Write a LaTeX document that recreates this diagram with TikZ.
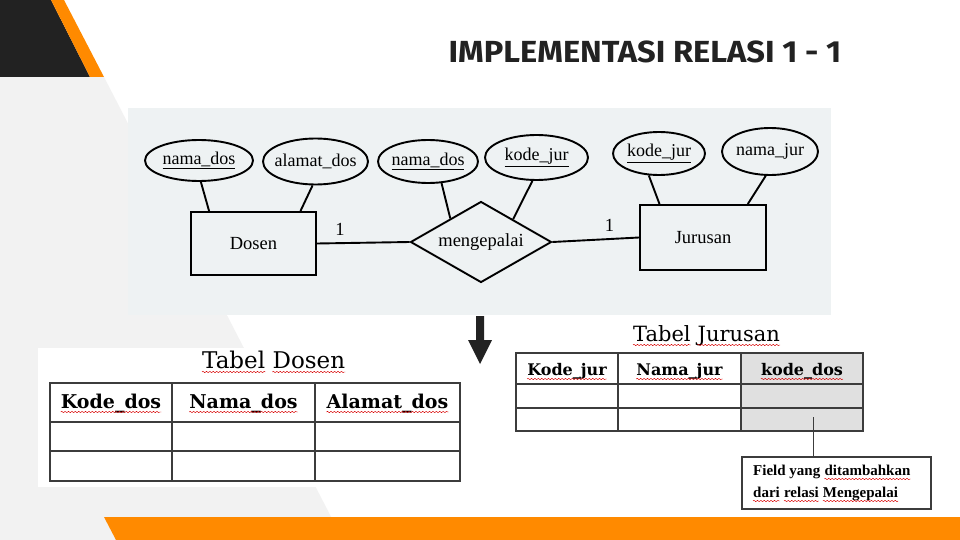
\documentclass[tikz,border=0pt]{standalone}
\usepackage{fontspec}
\usetikzlibrary{shapes.geometric,calc,decorations.pathmorphing}
\newfontfamily\erfont{Liberation Serif}
\newfontfamily\tabfont{DejaVu Serif}
\newfontfamily\notefont{Liberation Serif}
\newfontfamily\headfont{Fira Sans}
\definecolor{ink}{HTML}{222222}
\definecolor{accent}{HTML}{FF8A00}
\definecolor{pane}{HTML}{F2F2F2}
\definecolor{paper}{HTML}{EEF2F3}
\definecolor{rule}{HTML}{3C3C3C}
\definecolor{cellgray}{HTML}{E0E0E0}
\tikzset{
  erline/.style={line width=1.9pt, black},
  entity/.style={draw, erline, rectangle, inner sep=0pt, font=\erfont\fontsize{18.5}{20}\selectfont},
  attr/.style={draw, erline, ellipse, inner sep=0pt, font=\erfont\fontsize{18}{20}\selectfont},
  relation/.style={draw, erline, diamond, inner sep=0pt, font=\erfont\fontsize{18.5}{20}\selectfont},
  card/.style={font=\erfont\fontsize{18.5}{20}\selectfont, inner sep=0pt},
  grid/.style={draw=rule, line width=1.2pt},
  hdrA/.style={inner sep=0pt, anchor=base, font=\tabfont\bfseries\fontsize{19}{22}\selectfont},
  hdrB/.style={inner sep=0pt, anchor=base, font=\tabfont\bfseries\fontsize{16}{19}\selectfont},
  ttlA/.style={inner sep=0pt, anchor=base west, font=\tabfont\fontsize{23}{26}\selectfont},
  ttlB/.style={inner sep=0pt, anchor=base west, font=\tabfont\fontsize{21}{24}\selectfont},
  notetxt/.style={inner sep=0pt, anchor=base west, font=\notefont\bfseries\fontsize{15}{18}\selectfont},
  squig/.style={draw=red!85!black, line width=0.45pt, decorate,
    decoration={snake, amplitude=0.7pt, segment length=3.4pt}},
}
% red spell-check wave under a word node
\newcommand\spell[1]{\draw[squig] ([yshift=-4pt]#1.base west) -- ([yshift=-4pt]#1.base east);}
\begin{document}
\begin{tikzpicture}[x=1pt, y=-1pt]
\useasboundingbox (0,0) rectangle (960,540);

% ---- slide background ----
\fill[white] (0,0) rectangle (960,540);
\fill[pane] (0,77) -- (104,77) -- (343,540) -- (0,540) -- cycle;
\fill[ink] (0,0) -- (51,0) -- (90,77) -- (0,77) -- cycle;
\fill[accent] (51,0) -- (64,0) -- (104,77) -- (90,77) -- cycle;
\fill[accent] (104,517) -- (960,517) -- (960,540) -- (116,540) -- cycle;

% ---- title ----
\node[inner sep=0pt, anchor=base, text=ink,
      font=\headfont\bfseries\fontsize{30.5}{34}\selectfont] (title) at (645,63)
  {\scalebox{1.07}[1]{IMPLEMENTASI RELASI 1 - 1}};

% ---- ER diagram sheet ----
\fill[paper] (128,108) rectangle (831,315);

\node[entity, minimum width=125, minimum height=63] (dosen) at (253.5,243.5) {Dosen};
\node[entity, minimum width=126, minimum height=65] (jurusan) at (703,237.5) {Jurusan};
\node[relation, minimum width=141, minimum height=81] (rel) at (481,242)
  {\makebox[0pt]{mengepalai}};

\node[attr, minimum width=108, minimum height=41] (a1) at (199,160.5)
  {\makebox[0pt]{\underline{nama\_dos}}};
\node[attr, minimum width=105, minimum height=46] (a2) at (315.5,161.5)
  {\makebox[0pt]{alamat\_dos}};
\node[attr, minimum width=100, minimum height=43] (a3) at (428,161.5)
  {\makebox[0pt]{\underline{nama\_dos}}};
\node[attr, minimum width=103, minimum height=45] (a4) at (536.5,157.5)
  {\makebox[0pt]{\underline{kode\_jur}}};
\node[attr, minimum width=92, minimum height=43] (a5) at (659,153.5)
  {\makebox[0pt]{\underline{kode\_jur}}};
\node[attr, minimum width=96, minimum height=47] (a6) at (770,151.5)
  {\makebox[0pt]{nama\_jur}};

\draw[erline] (a1.-85) -- ($(dosen.north west)!0.15!(dosen.north east)$);
\draw[erline] (a2.-97) -- ($(dosen.north west)!0.87!(dosen.north east)$);
\draw[erline] (a3.-58) -- ($(rel.west)!0.57!(rel.north)$);
\draw[erline] (a4.-100) -- ($(rel.north)!0.45!(rel.east)$);
\draw[erline] (a5.-115) -- ($(jurusan.north west)!0.16!(jurusan.north east)$);
\draw[erline] (a6.-100) -- ($(jurusan.north west)!0.85!(jurusan.north east)$);

\draw[erline] (dosen.east) -- node[card, pos=0.25, above=7pt] (c1) {1} (rel.west);
\draw[erline] (rel.east) -- node[card, pos=0.66, above=7pt] (c2) {1} (jurusan.west);

% ---- transformation arrow ----
\fill[ink] (476,316) -- (484,316) -- (484,340) -- (492,340) -- (480,364)
  -- (468,340) -- (476,340) -- cycle;

% ---- Tabel Dosen ----
\fill[white] (38,348) rectangle (465,487);
\node[ttlA] (td1) at (202,368) {Tabel};
\node[ttlA] (td2) at ($(td1.base east)+(7,0)$) {Dosen};
\spell{td1} \spell{td2}
\draw[grid] (50,383) rectangle (460,481);
\draw[grid] (50,422) -- (460,422) (50,451) -- (460,451);
\draw[grid] (172,383) -- (172,481) (315,383) -- (315,481);
\node[hdrA] (hd1) at (111,408) {Kode\_dos};
\node[hdrA] (hd2) at (243.5,408) {Nama\_dos};
\node[hdrA] (hd3) at (387.5,408) {Alamat\_dos};
\spell{hd1} \spell{hd2} \spell{hd3}

% ---- Tabel Jurusan ----
\node[ttlB] (tj1) at (633,341) {Tabel};
\node[ttlB] (tj2) at ($(tj1.base east)+(6.5,0)$) {Jurusan};
\spell{tj1} \spell{tj2}
\fill[cellgray] (741,353) rectangle (863,431);
\draw[grid] (516,353) rectangle (863,431);
\draw[grid] (516,384) -- (863,384) (516,408) -- (863,408);
\draw[grid] (618,353) -- (618,431) (741,353) -- (741,431);
\node[hdrB] (hj1) at (567,375) {Kode\_jur};
\node[hdrB] (hj2) at (679.5,375) {Nama\_jur};
\node[hdrB] (hj3) at (802,375) {kode\_dos};
\spell{hj1} \spell{hj2} \spell{hj3}

% ---- note on the added field ----
\node[draw=rule, line width=1.1pt, minimum width=189, minimum height=52, inner sep=0pt]
  (note) at (836.5,483) {};
\coordinate (tap) at (813,417);
\draw[line width=1pt, rule] (tap) -- (note.north -| tap);
\node[notetxt] (n1) at (753,475) {Field yang};
\node[notetxt] (n2) at ($(n1.base east)+(3.8,0)$) {ditambahkan};
\node[notetxt] (n3) at (753,497) {dari};
\node[notetxt] (n4) at ($(n3.base east)+(3.8,0)$) {relasi};
\node[notetxt] (n5) at ($(n4.base east)+(3.8,0)$) {Mengepalai};
\spell{n2} \spell{n3} \spell{n4} \spell{n5}
\end{tikzpicture}
\end{document}
